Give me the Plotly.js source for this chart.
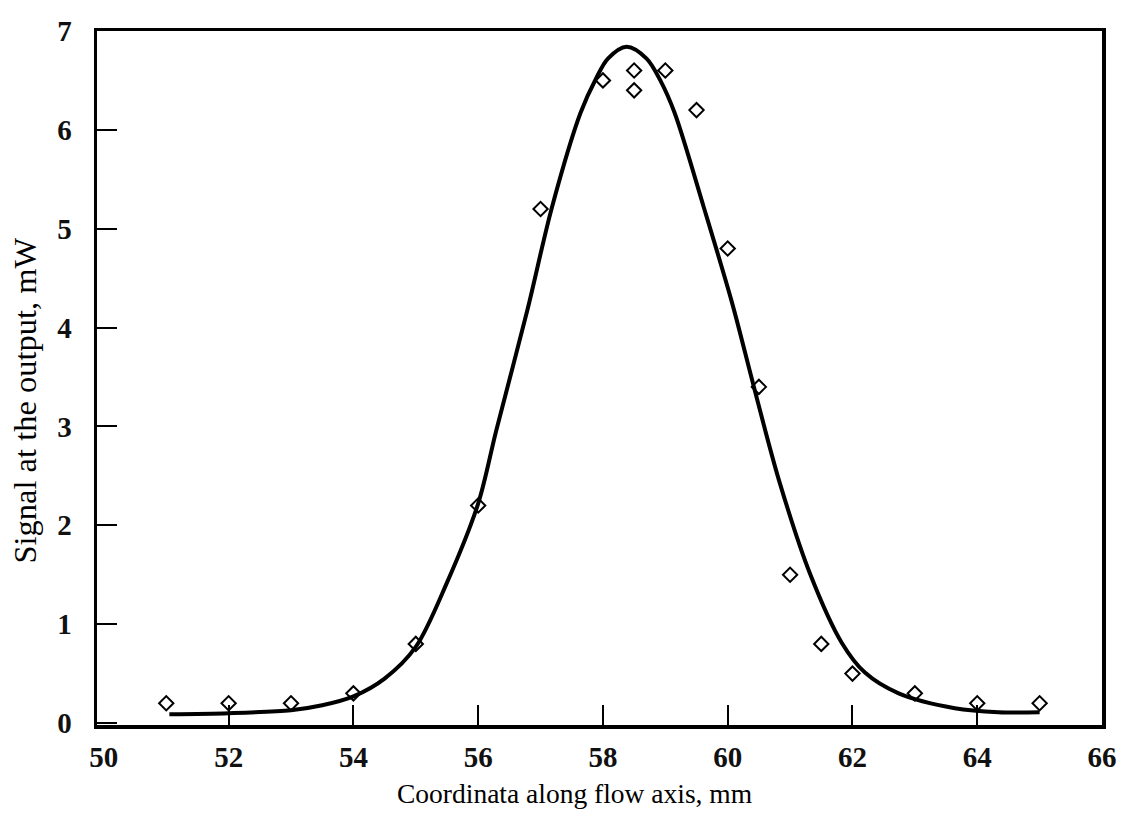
<!DOCTYPE html>
<html>
<head>
<meta charset="utf-8">
<script src="https://cdn.plot.ly/plotly-3.0.1.min.js"></script>
<style>html,body{margin:0;padding:0;background:#fff;}#chart{width:1126px;height:819px;}</style>
</head>
<body>
<div id="chart"></div>
<script>
// Measured points (diamonds)
const pointX = [51, 52, 53, 54, 55, 56, 57, 58, 58.5, 58.5, 59, 59.5, 60, 60.5, 61, 61.5, 62, 63, 64, 65];
const pointY = [0.2, 0.2, 0.2, 0.3, 0.8, 2.2, 5.2, 6.5, 6.6, 6.4, 6.6, 6.2, 4.8, 3.4, 1.5, 0.8, 0.5, 0.3, 0.2, 0.2];

// Fitted curve
const curveX = [51.05, 52, 53, 53.5, 54, 54.5, 55, 55.5, 56, 56.29, 56.79, 57.18, 57.64, 57.89, 58.08, 58.38, 58.7, 58.92, 59.15, 59.62, 60.07, 60.42, 60.82, 61.32, 61.83, 62.2, 62.74, 63.64, 64.34, 65];
const curveY = [0.09, 0.1, 0.13, 0.18, 0.27, 0.45, 0.77, 1.42, 2.22, 2.96, 4.18, 5.21, 6.17, 6.52, 6.72, 6.84, 6.72, 6.5, 6.17, 5.21, 4.25, 3.4, 2.46, 1.51, 0.81, 0.51, 0.30, 0.15, 0.11, 0.11];

// Axis ticks and titles
const xTicks = [50, 52, 54, 56, 58, 60, 62, 64, 66];
const xInnerTicks = [52, 54, 56, 58, 60, 62, 64];
const yTicks = [0, 1, 2, 3, 4, 5, 6, 7];
const xTitle = 'Coordinata along flow axis, mm';
const yTitle = 'Signal at the output, mW';

const xRange = [49.89, 66.0];
const yRange = [-0.02, 7.0];

const serif = '"Liberation Serif", "Times New Roman", serif';
const tickFont = {family: serif, size: 29, color: '#111', weight: 'bold'};

const traces = [
  {
    x: curveX, y: curveY, type: 'scatter', mode: 'lines',
    line: {color: '#000', width: 4, shape: 'spline', smoothing: 0.9},
    hoverinfo: 'skip', showlegend: false
  },
  {
    x: pointX, y: pointY, type: 'scatter', mode: 'markers',
    marker: {symbol: 'diamond-open', size: 11, color: '#000', line: {width: 2, color: '#000'}},
    showlegend: false
  },
  {
    // carrier for the inner tick axis (invisible)
    x: pointX, y: pointY, xaxis: 'x2', type: 'scatter', mode: 'markers',
    marker: {opacity: 0, size: 1}, hoverinfo: 'skip', showlegend: false
  }
];

const layout = {
  width: 1126, height: 819,
  margin: {l: 97, r: 24, t: 31, b: 94},
  paper_bgcolor: '#fff', plot_bgcolor: 'rgba(0,0,0,0)',
  showlegend: false,
  xaxis: {
    range: xRange,
    tickvals: xTicks, ticktext: xTicks.map(String),
    ticks: '',
    showline: true, linewidth: 3.5, linecolor: '#000', mirror: true,
    showgrid: false, zeroline: false,
    tickfont: tickFont, ticklabelstandoff: 4
  },
  xaxis2: {
    range: xRange, overlaying: 'x', anchor: 'y', side: 'bottom',
    tickvals: xInnerTicks, showticklabels: false,
    ticks: 'inside', ticklen: 20, tickwidth: 2, tickcolor: '#000',
    showline: false, showgrid: false, zeroline: false
  },
  yaxis: {
    range: yRange,
    tickvals: yTicks, ticktext: yTicks.map(String),
    ticks: 'inside', ticklen: 20, tickwidth: 2, tickcolor: '#000',
    showline: true, linewidth: 3.5, linecolor: '#000', mirror: true,
    showgrid: false, zeroline: false,
    tickfont: tickFont, ticklabelstandoff: 16
  },
  annotations: [
    {
      text: xTitle, xref: 'paper', yref: 'paper', x: 0.4756, y: -0.0994,
      xanchor: 'center', yanchor: 'middle', showarrow: false,
      font: {family: serif, size: 27.5, color: '#000'}
    },
    {
      text: yTitle, xref: 'paper', yref: 'paper', x: -0.072, y: 0.4669,
      xanchor: 'center', yanchor: 'middle', showarrow: false, textangle: -90,
      font: {family: serif, size: 32.5, color: '#000'}
    }
  ]
};

Plotly.newPlot('chart', traces, layout, {displayModeBar: false, staticPlot: true});
</script>
</body>
</html>
